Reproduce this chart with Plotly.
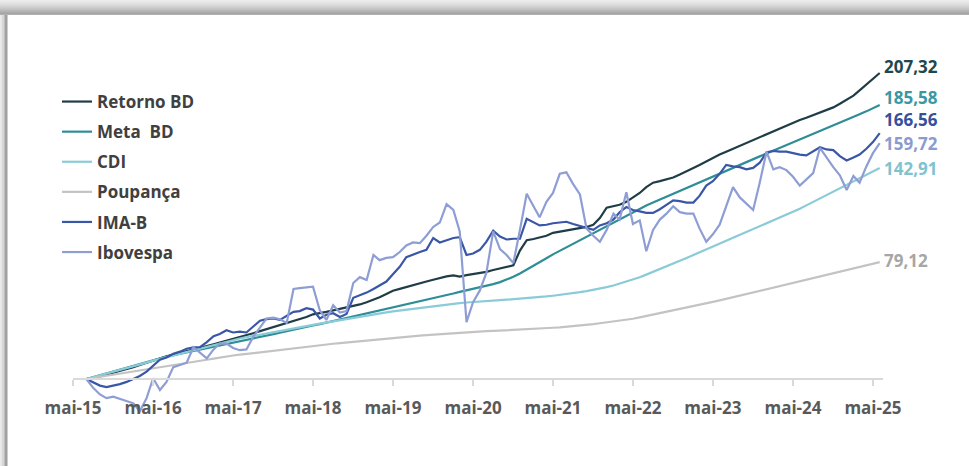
import plotly.graph_objects as go
import pandas as pd

# ---------------- data ----------------
months = pd.date_range("2015-07-01", "2025-06-01", freq="MS")  # 120 monthly points

tick_dates = ["2015-05-01", "2016-05-01", "2017-05-01", "2018-05-01", "2019-05-01",
              "2020-05-01", "2021-05-01", "2022-05-01", "2023-05-01", "2024-05-01", "2025-05-01"]
tick_labels = ["mai-15", "mai-16", "mai-17", "mai-18", "mai-19", "mai-20",
               "mai-21", "mai-22", "mai-23", "mai-24", "mai-25"]

retorno_bd = [0, 0.8, 1.8, 3.0, 4.2, 5.4, 6.7, 8.0, 9.5, 11.0, 12.8,
              14.0, 15.3, 16.5, 17.6, 18.8, 20.0, 21.2, 22.3, 23.5, 24.6, 25.8, 27.0,
              28.4, 29.8, 31.0, 32.4, 33.8, 35.0, 36.2, 37.6, 39.0, 40.5, 42.0, 43.8,
              44.5, 45.5, 46.5, 47.6, 48.4, 49.3, 50.5, 52.0, 53.6, 55.4, 57.5, 59.8,
              61.0, 62.3, 63.8, 64.9, 66.0, 67.2, 68.5, 69.5, 70.2, 69.4, 70.3, 71.0,
              71.4, 72.6, 73.8, 75.0, 75.8, 77.0, 87.0, 94.0, 94.8, 95.8, 97.0, 99.0,
              99.8, 100.6, 101.5, 102.5, 103.0, 104.5, 109.0, 116.0, 117.0, 118.0, 120.0, 123.0,
              126.0, 130.0, 133.0, 134.0, 135.0, 136.5, 138.5, 141.0, 143.0, 145.0, 147.5, 150.0,
              152.0, 154.0, 156.0, 158.0, 160.0, 162.0, 164.0, 165.8, 167.8, 169.8, 171.8, 173.8,
              175.5, 177.0, 178.8, 180.5, 182.0, 184.0, 186.5, 189.0, 192.0, 195.5, 199.5, 203.5, 207.32]

meta_bd = [0, 1.3, 2.6, 3.9, 5.2, 6.5, 7.8, 9.1, 10.4, 11.7, 13.0,
           14.1, 15.1, 16.1, 17.1, 18.1, 19.0, 20.0, 21.0, 22.0, 23.0, 24.0, 25.0,
           25.9, 26.8, 27.7, 28.6, 29.5, 30.4, 31.3, 32.2, 33.2, 34.2, 35.2, 36.2,
           37.2, 38.2, 39.2, 40.2, 41.2, 42.2, 43.2, 44.2, 45.2, 46.2, 47.3, 48.4,
           49.4, 50.4, 51.4, 52.4, 53.5, 54.6, 55.7, 56.8, 57.9, 59.0, 60.0, 61.0,
           62.0, 63.1, 64.3, 65.6, 67.2, 69.2, 71.5, 74.0, 76.6, 79.2, 81.8, 84.4,
           86.8, 89.2, 91.6, 94.0, 96.4, 98.8, 101.2, 103.6, 106.0, 108.4, 110.8, 113.2,
           115.5, 117.5, 119.5, 121.5, 123.5, 125.5, 127.5, 129.5, 131.5, 133.5, 135.5, 137.5,
           139.4, 141.3, 143.2, 145.1, 147.0, 148.9, 150.8, 152.7, 154.6, 156.5, 158.4, 160.3,
           162.2, 164.1, 166.0, 167.9, 169.8, 171.7, 173.6, 175.5, 177.4, 179.3, 181.3, 183.4, 185.58]

cdi = [0, 1.2, 2.4, 3.6, 4.8, 6.0, 7.2, 8.5, 9.8, 11.1, 12.4,
       13.6, 14.8, 16.0, 17.2, 18.4, 19.6, 20.8, 22.0, 23.2, 24.3, 25.4, 26.5,
       27.4, 28.3, 29.2, 30.1, 31.0, 31.9, 32.7, 33.5, 34.3, 35.1, 35.9, 36.7,
       37.5, 38.3, 39.1, 39.9, 40.7, 41.5, 42.3, 43.0, 43.7, 44.4, 45.1, 45.8,
       46.4, 47.0, 47.6, 48.2, 48.8, 49.4, 49.9, 50.4, 50.9, 51.4, 51.8, 52.2,
       52.5, 52.8, 53.1, 53.4, 53.7, 54.0, 54.3, 54.6, 55.0, 55.4, 55.9, 56.4,
       56.9, 57.5, 58.1, 58.8, 59.5, 60.3, 61.2, 62.2, 63.3, 64.5, 65.8, 67.2,
       68.9, 70.7, 72.5, 74.4, 76.3, 78.2, 80.1, 82.0, 83.9, 85.8, 87.7, 89.6,
       91.6, 93.6, 95.6, 97.6, 99.6, 101.6, 103.5, 105.4, 107.3, 109.2, 111.1, 113.0,
       115.3, 117.6, 119.9, 122.2, 124.5, 126.8, 129.1, 131.4, 133.7, 136.0, 138.3, 140.6, 142.91]

poupanca = [0, 0.7, 1.4, 2.1, 2.8, 3.5, 4.2, 4.9, 5.6, 6.3, 7.0,
            7.75, 8.5, 9.25, 10.0, 10.75, 11.5, 12.25, 13.0, 13.75, 14.5, 15.2, 15.9,
            16.45, 17.0, 17.55, 18.1, 18.65, 19.2, 19.75, 20.3, 20.85, 21.4, 21.95, 22.5,
            22.95, 23.4, 23.85, 24.3, 24.75, 25.2, 25.65, 26.1, 26.55, 27.0, 27.45, 27.9,
            28.25, 28.6, 28.95, 29.3, 29.65, 30.0, 30.35, 30.7, 31.05, 31.35, 31.65, 31.95,
            32.15, 32.35, 32.55, 32.75, 32.95, 33.15, 33.35, 33.55, 33.8, 34.05, 34.35, 34.7,
            35.0, 35.35, 35.75, 36.2, 36.7, 37.2, 37.75, 38.3, 38.9, 39.5, 40.15, 40.8,
            41.7, 42.6, 43.5, 44.45, 45.4, 46.35, 47.3, 48.25, 49.2, 50.2, 51.2, 52.2,
            53.25, 54.3, 55.35, 56.4, 57.45, 58.5, 59.55, 60.6, 61.65, 62.7, 63.75, 64.8,
            65.9, 67.0, 68.1, 69.2, 70.3, 71.4, 72.5, 73.6, 74.7, 75.8, 76.9, 78.0, 79.12]

ima_b = [0, -2.5, -4.5, -5.5, -4.5, -3.5, -2.0, 0.0, 2.0, 5.0, 9.0,
         13.0, 14.5, 17.0, 18.5, 20.5, 21.5, 21.5, 25.0, 29.0, 30.5, 33.0, 31.5,
         32.0, 31.5, 35.5, 39.5, 40.5, 41.0, 40.0, 43.0, 45.5, 46.0, 48.0, 47.0,
         41.0, 43.5, 44.5, 42.0, 44.0, 55.0, 56.5, 58.5, 61.0, 63.5, 66.0, 71.0,
         76.0, 82.5, 84.5, 86.0, 87.5, 95.5, 92.5, 94.0, 95.5, 96.0, 84.0, 85.0,
         87.5, 93.0, 100.5, 96.5, 94.5, 95.0, 95.0, 108.5, 106.0, 104.0, 104.5, 105.5,
         106.0, 106.5, 105.0, 103.5, 102.0, 101.0, 104.0, 105.5, 108.0, 113.0, 116.5, 114.5,
         113.5, 112.5, 112.5, 115.0, 118.0, 121.0, 120.5, 119.5, 119.5, 124.0, 131.0, 134.0,
         139.0, 145.0, 144.0, 143.5, 142.0, 143.0, 146.5, 153.5, 154.5, 154.0, 154.0, 153.0,
         152.0, 151.5, 154.0, 157.0, 155.5, 155.0, 151.0, 148.0, 150.0, 152.0, 156.0, 160.5, 166.56]

ibovespa = [0, -6.0, -10.5, -13.0, -12.0, -13.5, -15.0, -16.5, -22.0, -13.0, 0.5,
            -7.5, -2.0, 8.0, 9.5, 11.0, 21.5, 17.5, 14.0, 20.0, 24.0, 24.0, 21.0,
            19.5, 20.0, 28.5, 35.0, 41.0, 41.5, 40.5, 38.0, 61.0, 61.5, 62.0, 62.5,
            46.5, 40.0, 50.0, 45.0, 46.0, 65.0, 69.0, 67.0, 84.0, 80.5, 82.0, 82.5,
            86.0, 90.5, 92.5, 92.0, 97.0, 103.0, 106.0, 118.5, 114.5, 100.0, 38.5, 52.0,
            60.0, 72.0, 100.0, 88.0, 84.0, 78.5, 101.0, 125.5, 117.0, 109.5, 120.0, 126.0,
            139.0, 140.0, 132.0, 125.0, 102.0, 97.0, 93.0, 101.0, 112.0, 108.0, 126.5, 105.0,
            107.5, 86.5, 101.0, 108.0, 112.0, 117.0, 113.0, 112.0, 112.0, 102.0, 93.0, 98.0,
            104.5, 117.0, 130.0, 123.0, 119.0, 114.5, 133.0, 154.0, 142.0, 143.5, 141.5, 137.0,
            131.0, 135.0, 139.5, 156.5, 150.0, 143.5, 138.0, 128.0, 137.5, 133.0, 144.0, 153.0, 159.72]

series_names = ["Retorno BD", "Meta  BD", "CDI", "Poupança", "IMA-B", "Ibovespa"]
series_values = [retorno_bd, meta_bd, cdi, poupanca, ima_b, ibovespa]
end_labels = ["207,32", "185,58", "142,91", "79,12", "166,56", "159,72"]

# ---------------- style ----------------
line_colors = ["#1f3d47", "#2f8d98", "#8acbd8", "#c3c3c3", "#3a56a6", "#8e9ed4"]
label_colors = ["#1d4850", "#3a98a4", "#7fc3cf", "#a6a6a6", "#34509c", "#8b9bd0"]
label_yshift = [6, 8, 0, 2, 14, 0]

W, H = 969, 466
L, R, T, B = 73, 86, 60, 46
plot_w, plot_h = W - L - R, H - T - B
Y_MIN, Y_MAX = -27.8, 216.1
FONT = "Open Sans"


def px_x(p):
    return (p - L) / plot_w


def px_y(p):
    return (H - B - p) / plot_h


fig = go.Figure()
for name, vals, col in zip(series_names, series_values, line_colors):
    fig.add_trace(go.Scatter(
        x=months, y=vals, mode="lines", name=name, legendgroup=name,
        line=dict(color=col, width=2.2), hoverinfo="skip"))

annotations = []
for vals, txt, col, ys in zip(series_values, end_labels, label_colors, label_yshift):
    annotations.append(dict(
        x=months[-1], y=vals[-1], xref="x", yref="y", text=txt, showarrow=False,
        xanchor="left", yanchor="middle", xshift=3, yshift=ys, borderpad=0,
        font=dict(family=FONT, size=17, color=col, weight="bold")))

# card frame: shaded top band and left edge
shapes = []
top_band = [236, 233, 229, 225, 221, 216, 211, 205, 199, 192, 185, 178, 171, 166, 176]
for i, g in enumerate(top_band):
    c = f"rgb({g},{g},{g})"
    shapes.append(dict(type="rect", xref="paper", yref="paper",
                       x0=px_x(0), x1=px_x(W), y0=px_y(i + 1), y1=px_y(i),
                       fillcolor=c, line=dict(width=0), layer="below"))
left_edge = [(0, 2, 232), (2, 4, 214), (4, 5, 190), (5, 7, 160), (7, 8, 205)]
for a, b, g in left_edge:
    c = f"rgb({g},{g},{g})"
    shapes.append(dict(type="rect", xref="paper", yref="paper",
                       x0=px_x(a), x1=px_x(b), y0=px_y(H), y1=px_y(15),
                       fillcolor=c, line=dict(width=0), layer="below"))

fig.update_layout(
    width=W, height=H,
    margin=dict(l=L, r=R, t=T, b=B, pad=0),
    paper_bgcolor="white", plot_bgcolor="rgba(0,0,0,0)",
    showlegend=True,
    legend=dict(x=px_x(57), y=px_y(84), xanchor="left", yanchor="top",
                bgcolor="rgba(0,0,0,0)", tracegroupgap=5, itemwidth=30,
                font=dict(family=FONT, size=17, color="#404040", weight="bold")),
    xaxis=dict(type="date", range=["2015-05-01", "2025-06-16"],
               tickvals=tick_dates, ticktext=tick_labels,
               anchor="free", position=(0 - Y_MIN) / (Y_MAX - Y_MIN),
               showline=True, linecolor="#d9d9d9", linewidth=1.5,
               ticks="outside", ticklen=6, tickcolor="#d9d9d9", tickwidth=1.5,
               ticklabelstandoff=8,
               tickfont=dict(family=FONT, size=17, color="#595959", weight="bold"),
               showgrid=False, zeroline=False, fixedrange=True),
    yaxis=dict(range=[Y_MIN, Y_MAX], visible=False, showgrid=False, zeroline=False,
               fixedrange=True),
    annotations=annotations,
    shapes=shapes,
)

fig.write_html("out.html", config={"displayModeBar": False},
               post_script="document.body.style.margin='0';")
